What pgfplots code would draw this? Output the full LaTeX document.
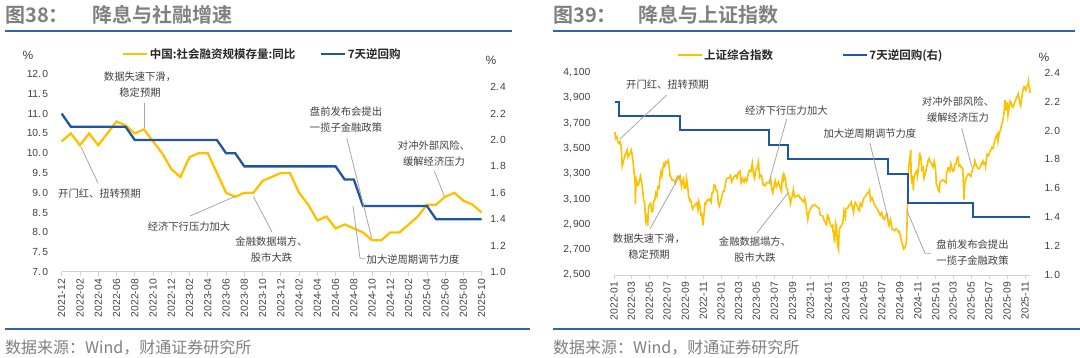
\documentclass[border=0pt]{standalone}
\usepackage{fontspec}
\setmainfont{Liberation Sans}
\newfontfamily\cjk{Noto Sans CJK SC}[BoldFont={Noto Sans CJK SC Bold}]
\usepackage{pgfplots}
\pgfplotsset{compat=1.18}
\definecolor{myyel}{RGB}{255,192,0}
\definecolor{myblue}{RGB}{30,86,164}
\definecolor{rulec}{RGB}{46,100,176}
\definecolor{titlegray}{RGB}{128,128,128}
\definecolor{txt}{RGB}{64,64,64}
\definecolor{lead}{RGB}{166,166,166}
\definecolor{axgray}{RGB}{210,210,210}
\newcommand{\dg}{\kern1.2pt}
\pgfplotsset{
  base/.style={
    scale only axis, clip=false,
    axis line style={-},
    tick align=outside, major tick length=4pt,
    tick label style={font=\fontsize{10.3}{11}\selectfont, text=txt},
    legend image code/.code={\draw[##1] (0pt,0pt) -- (24pt,0pt);},
  },
  leftax/.style={base,
    axis x line*=bottom, axis y line*=left,
    x axis line style={draw=axgray, line width=1pt},
    y axis line style={draw=none},
    xtick style={draw=axgray, line width=0.8pt},
    ytick style={draw=none},
    xticklabel style={rotate=90, anchor=east, inner sep=3pt},
    yticklabel style={inner sep=0pt, xshift=-9.5pt},
  },
  rightax/.style={base,
    axis x line=none, axis y line*=right,
    y axis line style={draw=none},
    ytick style={draw=none},
    yticklabel style={inner sep=0pt, xshift=4.5pt, anchor=west},
  },
  leg/.style={legend style={at={(axis description cs:#1)}, anchor=west, draw=none, fill=none,
    inner sep=0pt, outer sep=0pt,
    font=\cjk\bfseries\fontsize{11.5}{12}\selectfont,
    nodes={inner sep=1.5pt, text={rgb,255:red,38;green,38;blue,38}}}},
}
\begin{document}
\begin{tikzpicture}
\path[use as bounding box] (0pt,0pt) rectangle (1080pt,-358pt);

% ---------------- Panel 1 ----------------
\begin{axis}[leftax,
  at={(61.7pt,-272pt)}, anchor=south west, width=420pt, height=198pt,
  xmin=0, xmax=46, ymin=7, ymax=12,
  xtick={0,2,...,46},
  xticklabels={2021-12,2022-02,2022-04,2022-06,2022-08,2022-10,2022-12,2023-02,2023-04,2023-06,2023-08,2023-10,2023-12,2024-02,2024-04,2024-06,2024-08,2024-10,2024-12,2025-02,2025-04,2025-06,2025-08,2025-10},
  ytick={7,7.5,8,8.5,9,9.5,10,10.5,11,11.5,12},
  yticklabels={7.\dg0,7.\dg5,8.\dg0,8.\dg5,9.\dg0,9.\dg5,10.\dg0,10.\dg5,11.\dg0,11.\dg5,12.\dg0},
  leg={0.1436,1.101},
]
\addplot[myyel, line width=2.3pt] coordinates {
(0,10.3)(1,10.5)(2,10.2)(3,10.5)(4,10.2)(5,10.5)(6,10.8)(7,10.7)(8,10.5)(9,10.6)
(10,10.3)(11,10.0)(12,9.6)(13,9.4)(14,9.9)(15,10.0)(16,10.0)(17,9.5)(18,9.0)(19,8.9)
(20,9.0)(21,9.0)(22,9.3)(23,9.4)(24,9.5)(25,9.5)(26,9.0)(27,8.7)(28,8.3)(29,8.4)
(30,8.1)(31,8.2)(32,8.1)(33,8.0)(34,7.8)(35,7.8)(36,8.0)(37,8.0)(38,8.2)(39,8.4)
(40,8.7)(41,8.7)(42,8.9)(43,9.0)(44,8.8)(45,8.7)(46,8.5)};
\addlegendentry{中国:社会融资规模存量:同比}
\end{axis}
\begin{axis}[rightax,
  at={(61.7pt,-272pt)}, anchor=south west, width=420pt, height=198pt,
  xmin=0, xmax=46, ymin=1, ymax=2.5,
  ytick={1,1.2,1.4,1.6,1.8,2.0,2.2,2.4},
  yticklabels={1.\dg0,1.\dg2,1.\dg4,1.\dg6,1.\dg8,2.\dg0,2.\dg2,2.\dg4},
  leg={0.615,1.101},
]
\addplot[myblue, line width=2.3pt] coordinates {
(0,2.2)(1,2.1)(2,2.1)(3,2.1)(4,2.1)(5,2.1)(6,2.1)(7,2.1)(8,2.0)(9,2.0)
(10,2.0)(11,2.0)(12,2.0)(13,2.0)(14,2.0)(15,2.0)(16,2.0)(17,2.0)(18,1.9)(19,1.9)
(20,1.8)(21,1.8)(22,1.8)(23,1.8)(24,1.8)(25,1.8)(26,1.8)(27,1.8)(28,1.8)(29,1.8)
(30,1.8)(31,1.7)(32,1.7)(33,1.5)(34,1.5)(35,1.5)(36,1.5)(37,1.5)(38,1.5)(39,1.5)
(40,1.5)(41,1.4)(42,1.4)(43,1.4)(44,1.4)(45,1.4)(46,1.4)};
\addlegendentry{7天逆回购}
\end{axis}

% ---------------- Panel 2 ----------------
\begin{axis}[leftax,
  at={(614pt,-275pt)}, anchor=south west, width=416pt, height=202.3pt,
  xmin=0, xmax=1417, ymin=2500, ymax=4100,
  xtick={0,59,120,181,243,304,365,424,485,546,608,669,730,790,851,912,974,1035,1096,1155,1216,1277,1339,1400},
  xticklabels={2022-01,2022-03,2022-05,2022-07,2022-09,2022-11,2023-01,2023-03,2023-05,2023-07,2023-09,2023-11,2024-01,2024-03,2024-05,2024-07,2024-09,2024-11,2025-01,2025-03,2025-05,2025-07,2025-09,2025-11},
  ytick={2500,2700,2900,3100,3300,3500,3700,3900,4100},
  yticklabels={{2,\dg500},{2,\dg700},{2,\dg900},{3,\dg100},{3,\dg300},{3,\dg500},{3,\dg700},{3,\dg900},{4,\dg100}},
  yticklabel style={xshift=-10pt},
  leg={0.1514,1.0875},
]
\addplot[myyel, line width=1.6pt] coordinates {
(3,3632)(6,3580)(10,3593)(13,3555)(17,3541)(20,3555)(24,3524)(26,3455)(27,3394)(28,3361)
(38,3452)(41,3463)(45,3490)(48,3434)(52,3457)(55,3462)(59,3488)(62,3447)(66,3372)(69,3295)
(72,3223)(73,3063)(74,3170)(76,3251)(80,3212)(83,3212)(87,3252)(90,3282)(94,3236)(97,3186)
(101,3087)(104,3079)(108,2928)(111,2958)(114,2928)(115,2886)(116,2958)(118,3047)(125,3067)(128,3001)
(132,3004)(135,3084)(139,3093)(142,3146)(146,3123)(149,3195)(153,3186)(156,3256)(160,3316)(163,3285)
(167,3349)(170,3379)(173,3362)(177,3398)(181,3388)(185,3405)(188,3356)(191,3281)(195,3270)(198,3250)
(202,3253)(205,3246)(209,3227)(212,3253)(216,3281)(219,3277)(223,3258)(226,3276)(230,3199)(233,3235)
(237,3262)(240,3186)(244,3186)(247,3262)(251,3200)(254,3122)(258,3088)(261,3094)(265,3049)(268,3024)
(272,3041)(282,3071)(286,3016)(289,3081)(293,3038)(296,2977)(299,2983)(303,2893)(306,2969)(310,3070)
(313,3064)(317,3087)(320,3097)(324,3089)(327,3101)(331,3078)(334,3149)(338,3156)(341,3212)(345,3206)
(348,3168)(352,3167)(355,3073)(359,3045)(362,3073)(364,3089)
(367,3116)(370,3157)(375,3162)(380,3228)(384,3265)(394,3269)(397,3285)(401,3238)(405,3260)(410,3280)
(415,3290)(419,3267)(424,3312)(429,3322)(433,3230)(438,3263)(443,3234)(447,3265)(452,3240)(457,3296)
(461,3327)(466,3318)(471,3385)(475,3301)(479,3265)(482,3323)(488,3350)(492,3395)(496,3272)(500,3290)
(503,3284)(508,3212)(510,3213)(515,3205)(520,3232)(524,3231)(529,3228)(534,3256)(536,3197)(541,3150)
(544,3182)(549,3244)(553,3197)(557,3221)(560,3237)(565,3198)(570,3164)(572,3232)(574,3275)(576,3291)
(578,3261)(580,3288)(584,3260)(587,3189)(591,3176)(594,3131)(598,3120)(601,3064)(604,3098)(607,3120)
(611,3177)(615,3117)(620,3126)(625,3125)(629,3132)(634,3107)(635,3110)(646,3076)(649,3107)(653,3074)
(656,3005)(660,2939)(663,2988)(668,3019)(671,3030)(676,3052)(681,3047)(685,3054)(690,3043)(695,3031)
(698,3030)(703,2972)(706,2970)(711,2968)(716,2930)(719,2918)(724,2898)(727,2975)
(731,2962)(734,2929)(738,2894)(741,2882)(745,2894)(746,2845)(748,2832)(751,2756)(753,2820)(755,2910)
(758,2883)(760,2789)(762,2730)(765,2702)(766,2789)(767,2830)(768,2866)(779,2910)(783,3004)(788,2957)
(790,3027)(796,3027)(801,3055)(804,3055)(808,3078)(811,3048)(816,2993)(818,3041)(822,3074)(828,3047)
(832,3019)(836,3007)(839,3065)(844,3044)(850,3105)(858,3128)(863,3148)(867,3154)(870,3171)(874,3088)
(879,3111)(884,3078)(888,3051)(893,3037)(898,3015)(902,2998)(907,2972)(912,2995)(916,2949)(921,2939)
(926,2974)(930,2982)(935,2901)(937,2890)(942,2939)(947,2861)(951,2862)(956,2850)(961,2866)(965,2855)
(970,2837)(972,2842)(976,2802)(979,2765)(983,2744)(986,2704)(991,2717)(993,2736)(996,2748)(997,2864)
(998,2896)(999,3000)(1000,3087)(1003,3336)(1011,3489)(1012,3258)(1013,3302)(1014,3217)(1017,3284)(1020,3169)
(1021,3261)(1026,3302)(1031,3322)(1034,3280)(1039,3387)(1041,3470)(1042,3452)(1046,3422)(1049,3331)(1053,3346)
(1056,3267)(1061,3310)(1066,3364)(1070,3404)(1074,3422)(1077,3392)(1082,3382)(1087,3352)(1091,3400)(1095,3351)
(1097,3262)(1098,3211)(1101,3206)(1105,3169)(1108,3160)(1110,3227)(1112,3241)(1116,3243)(1119,3252)(1122,3250)
(1131,3229)(1133,3303)(1138,3346)(1140,3346)(1144,3324)(1147,3379)(1151,3346)(1154,3321)(1158,3325)(1161,3373)
(1165,3379)(1168,3419)(1172,3430)(1175,3364)(1179,3370)(1182,3351)(1186,3348)(1188,3342)(1192,3097)(1193,3145)
(1195,3224)(1199,3263)(1202,3280)(1207,3300)(1210,3295)(1215,3279)(1222,3343)(1227,3369)(1229,3404)(1234,3367)
(1238,3348)(1243,3340)(1249,3362)(1252,3385)(1257,3402)(1259,3377)(1264,3388)(1266,3359)(1271,3455)(1276,3444)
(1280,3473)(1285,3493)(1287,3510)(1292,3503)(1294,3534)(1299,3582)(1301,3593)(1306,3615)(1308,3560)(1313,3634)
(1315,3635)(1320,3683)(1322,3697)(1325,3728)(1328,3771)(1332,3883)(1334,3800)(1336,3858)(1340,3858)(1342,3765)
(1346,3826)(1349,3875)(1353,3860)(1356,3831)(1360,3828)(1363,3853)(1368,3883)(1377,3933)(1382,3865)(1385,3839)
(1390,3914)(1392,3950)(1396,3988)(1398,3987)(1403,3961)(1406,3998)(1410,4002)(1412,4029)(1413,3990)(1416,3972)(1417,3939)};
\addlegendentry{上证综合指数}
\end{axis}
\begin{axis}[rightax,
  at={(614pt,-275pt)}, anchor=south west, width=416pt, height=202.3pt,
  xmin=0, xmax=1417, ymin=1, ymax=2.4,
  ytick={1,1.2,1.4,1.6,1.8,2.0,2.2,2.4},
  yticklabels={1.\dg0,1.\dg2,1.\dg4,1.\dg6,1.\dg8,2.\dg0,2.\dg2,2.\dg4},
  yticklabel style={xshift=6pt},
  leg={0.548,1.0875},
]
\addplot[myblue, line width=2pt, const plot] coordinates {
(3,2.2)(16,2.1)(226,2.0)(528,1.9)(591,1.8)(933,1.7)(1000,1.5)(1223,1.4)(1417,1.4)};
\addlegendentry{7天逆回购(右)}
\end{axis}

% ---------------- decorations ----------------
\begin{scope}[x=1pt,y=-1pt]
\tikzset{ann/.style={font=\cjk\fontsize{10.3}{16}\selectfont, text=txt, align=center, inner sep=0pt},
         ld/.style={draw=lead, line width=0.8pt}}
% titles
\node[anchor=west, inner sep=0pt, text=titlegray, font=\cjk\bfseries\fontsize{20}{20}\selectfont] at (5,15) {图38：};
\node[anchor=west, inner sep=0pt, text=titlegray, font=\cjk\bfseries\fontsize{20}{20}\selectfont] at (92,15) {降息与社融增速};
\node[anchor=west, inner sep=0pt, text=titlegray, font=\cjk\bfseries\fontsize{20}{20}\selectfont] at (553,15) {图39：};
\node[anchor=west, inner sep=0pt, text=titlegray, font=\cjk\bfseries\fontsize{20}{20}\selectfont] at (638,15) {降息与上证指数};
\draw[rulec, line width=1.6pt] (5,31) -- (512,31);
\draw[rulec, line width=1.6pt] (553,31) -- (1075,31);
\draw[rulec, line width=1.6pt] (5,329.3) -- (530,329.3);
\draw[rulec, line width=1.6pt] (553,329.3) -- (1080,329.3);
\node[anchor=west, inner sep=0pt, text=titlegray, font=\cjk\fontsize{16}{16}\selectfont] at (5,348) {数据来源：Wind，财通证券研究所};
\node[anchor=west, inner sep=0pt, text=titlegray, font=\cjk\fontsize{16}{16}\selectfont] at (553,348) {数据来源：Wind，财通证券研究所};
% units
\node[inner sep=0pt, text=txt, font=\fontsize{12}{12}\selectfont] at (28,55) {\%};
\node[inner sep=0pt, text=txt, font=\fontsize{12}{12}\selectfont] at (491,60) {\%};
\node[inner sep=0pt, text=txt, font=\fontsize{12}{12}\selectfont] at (1044,57) {\%};
% panel 1 annotations
\node[ann] at (140,85) {数据失速下滑，\\稳定预期};
\draw[ld] (144.3,103.3) -- (144.3,128.3);
\node[ann, anchor=west] at (58,194) {开门红、扭转预期};
\draw[ld] (81,147) -- (98,183);
\node[ann] at (189,226.7) {经济下行压力加大};
\draw[ld] (190,216) -- (235,196.5);
\node[ann] at (271.5,249.2) {金融数据塌方、\\股市大跌};
\draw[ld] (253.4,196.5) -- (272,232);
\node[ann] at (346,120) {盘前发布会提出\\一揽子金融政策};
\draw[ld] (346.7,138) -- (371.7,238);
\draw[ld] (353,206) -- (360,258.3) -- (365,258.3);
\node[ann, anchor=west] at (366.5,259.3) {加大逆周期调节力度};
\node[ann] at (434,153.7) {对冲外部风险、\\缓解经济压力};
\draw[ld] (434.3,171) -- (444.3,196);
% panel 2 annotations
\node[ann, anchor=west] at (626,85) {开门红、扭转预期};
\draw[ld] (666.7,95) -- (620,139);
\node[ann] at (649,247) {数据失速下滑，\\稳定预期};
\draw[ld] (650,229) -- (680,175);
\node[ann, anchor=west] at (745,110.7) {经济下行压力加大};
\draw[ld] (786.7,119) -- (769,182);
\node[ann] at (755,250) {金融数据塌方、\\股市大跌};
\draw[ld] (756.7,233.3) -- (787.7,193.3);
\node[ann, anchor=west] at (823.3,133.3) {加大逆周期调节力度};
\draw[ld] (870,143.3) -- (888.3,220);
\node[ann] at (972.5,252.5) {盘前发布会提出\\一揽子金融政策};
\draw[ld] (906.7,210) -- (925,253.3) -- (931,253.3);
\node[ann] at (958,110) {对冲外部风险、\\缓解经济压力};
\draw[ld] (961.7,128.3) -- (971.7,166.7);
\end{scope}
\end{tikzpicture}
\end{document}
